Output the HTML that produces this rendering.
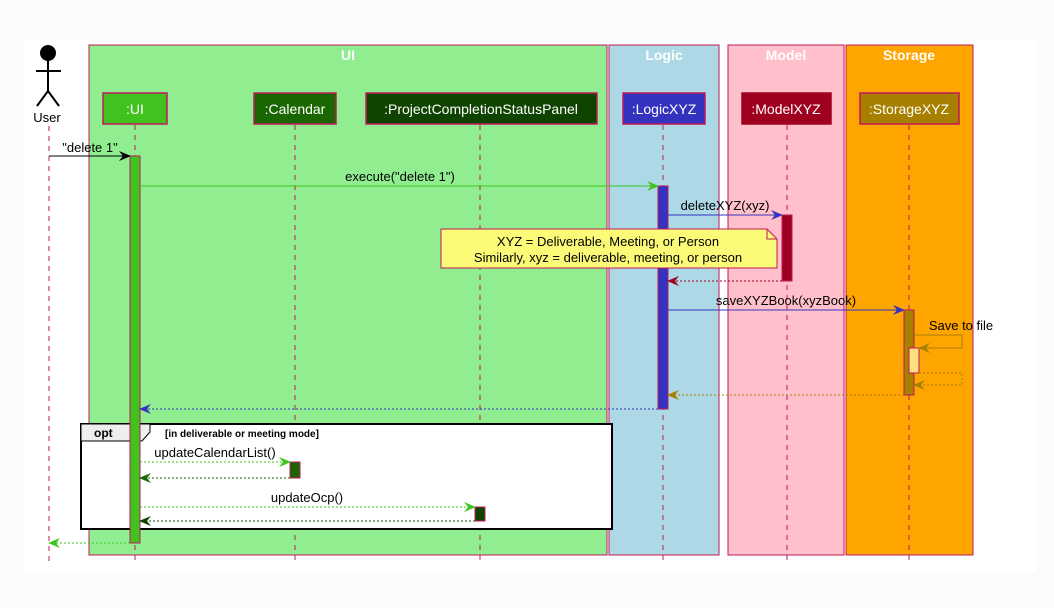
<!DOCTYPE html>
<html><head><meta charset="utf-8"><style>
html,body{margin:0;padding:0;background:#fbfbfb;}
svg{display:block;font-family:"Liberation Sans","DejaVu Sans",sans-serif;}
</style></head><body>
<svg width="1054" height="608" viewBox="0 0 1054 608">
<defs>
<marker id="a" viewBox="0 0 12 10" refX="11" refY="5" markerWidth="12" markerHeight="10" orient="auto" markerUnits="userSpaceOnUse"><path d="M0,0 L12,5 L0,10 L4,5 Z" fill="context-stroke"/></marker>
</defs>
<rect x="24" y="40" width="1012" height="532" fill="#fff"/>
<!-- boxes -->
<g><rect x="89" y="45" width="518" height="510" fill="#90ee90" stroke="#c2185b"/><text x="348" y="60" fill="#fff" font-size="14" font-weight="bold" text-anchor="middle">UI</text></g>
<g><rect x="609" y="45" width="110" height="510" fill="#add8e6" stroke="#c2185b"/><text x="664" y="60" fill="#fff" font-size="14" font-weight="bold" text-anchor="middle">Logic</text></g>
<g><rect x="728" y="45" width="116" height="510" fill="#ffc0cb" stroke="#c2185b"/><text x="786" y="60" fill="#fff" font-size="14" font-weight="bold" text-anchor="middle">Model</text></g>
<g><rect x="846" y="45" width="127" height="510" fill="#ffa500" stroke="#c2185b"/><text x="909" y="60" fill="#fff" font-size="14" font-weight="bold" text-anchor="middle">Storage</text></g>
<!-- lifelines -->
<g stroke="#c2185b" stroke-dasharray="5,5">
<line x1="49" y1="126" x2="49" y2="562"/><line x1="135" y1="125" x2="135" y2="562"/><line x1="295" y1="125" x2="295" y2="562"/><line x1="480" y1="125" x2="480" y2="562"/><line x1="663" y1="125" x2="663" y2="562"/><line x1="787" y1="125" x2="787" y2="562"/><line x1="909" y1="125" x2="909" y2="562"/>
</g>
<!-- actor -->
<g stroke="#000" stroke-width="2" fill="none">
<circle cx="48" cy="53" r="7" fill="#000"/><line x1="48" y1="60" x2="48" y2="91"/><line x1="36" y1="71" x2="61" y2="71"/><line x1="48" y1="91" x2="37" y2="106"/><line x1="48" y1="91" x2="59" y2="106"/>
</g>
<text x="47" y="122" font-size="13" text-anchor="middle">User</text>
<!-- participants -->
<g font-size="14" fill="#fff" text-anchor="middle">
<g><rect x="103" y="93" width="64" height="31" fill="#40c31f" stroke="#c2185b" stroke-width="1.5"/><text x="135" y="114" fill="#fff">:UI</text></g>
<g><rect x="254" y="93" width="82" height="31" fill="#1a6600" stroke="#c2185b" stroke-width="1.5"/><text x="295" y="114" fill="#fff">:Calendar</text></g>
<g><rect x="366" y="93" width="231" height="31" fill="#0f4400" stroke="#c2185b" stroke-width="1.5"/><text x="481" y="114" fill="#fff">:ProjectCompletionStatusPanel</text></g>
<g><rect x="623" y="93" width="82" height="31" fill="#3333c0" stroke="#c2185b" stroke-width="1.5"/><text x="664" y="114" fill="#fff">:LogicXYZ</text></g>
<g><rect x="742" y="93" width="89" height="31" fill="#a00020" stroke="#a00020" stroke-width="1.5"/><text x="786" y="114" fill="#fff">:ModelXYZ</text></g>
<g><rect x="860" y="93" width="99" height="31" fill="#a88000" stroke="#c2185b" stroke-width="1.5"/><text x="909" y="114" fill="#fff">:StorageXYZ</text></g>
</g>
<!-- opt frame -->
<g>
<rect x="81" y="424" width="531" height="105" fill="#fff" stroke="#000" stroke-width="2"/>
<path d="M81,424 H150 V432 L142,441 H81 Z" fill="#eee" stroke="#000"/>
<text x="94" y="437" font-size="12" font-weight="bold">opt</text>
<text x="165" y="437" font-size="10" font-weight="bold">[in deliverable or meeting mode]</text>
</g>
<!-- activations -->
<rect x="130" y="156" width="10" height="387" fill="#40c31f" stroke="#c2185b"/>
<rect x="658" y="186" width="10" height="223" fill="#3333c0" stroke="#c2185b"/>
<rect x="782" y="215" width="10" height="66" fill="#a00020" stroke="#c2185b"/>
<rect x="904" y="310" width="10" height="85" fill="#a88000" stroke="#c2185b"/>
<rect x="909" y="348" width="10" height="25" fill="#ffe080" stroke="#c2185b"/>
<rect x="290" y="462" width="10" height="16" fill="#1a6600" stroke="#c2185b"/>
<rect x="475" y="507" width="10" height="14" fill="#0f4400" stroke="#c2185b"/>
<!-- note -->
<g>
<path d="M441,229 H767 L777,239 V268 H441 Z" fill="#fbfb77" stroke="#c2185b"/>
<path d="M767,229 V239 H777" fill="none" stroke="#c2185b"/>
<text x="608" y="246" font-size="13" text-anchor="middle">XYZ = Deliverable, Meeting, or Person</text>
<text x="608" y="262" font-size="13" text-anchor="middle">Similarly, xyz = deliverable, meeting, or person</text>
</g>
<!-- messages -->
<g font-size="13" fill="#000" text-anchor="middle">
<line x1="49" y1="156" x2="130" y2="156" stroke="#000" marker-end="url(#a)"/><text x="90" y="152">"delete 1"</text>
<line x1="140" y1="186" x2="658" y2="186" stroke="#40c31f" marker-end="url(#a)"/><text x="400" y="181">execute("delete 1")</text>
<line x1="668" y1="215" x2="782" y2="215" stroke="#3333c0" marker-end="url(#a)"/><text x="725" y="210">deleteXYZ(xyz)</text>
<line x1="782" y1="281" x2="668" y2="281" stroke="#a00020" stroke-dasharray="2,2" marker-end="url(#a)"/>
<line x1="668" y1="310" x2="904" y2="310" stroke="#3333c0" marker-end="url(#a)"/><text x="786" y="305">saveXYZBook(xyzBook)</text>
<polyline points="914,335 962,335 962,348 919,348" fill="none" stroke="#a88000" marker-end="url(#a)"/><text x="961" y="330">Save to file</text>
<polyline points="919,373 962,373 962,385 914,385" fill="none" stroke="#a88000" stroke-dasharray="2,2" marker-end="url(#a)"/>
<line x1="904" y1="395" x2="668" y2="395" stroke="#a88000" stroke-dasharray="2,2" marker-end="url(#a)"/>
<line x1="658" y1="409" x2="140" y2="409" stroke="#3333c0" stroke-dasharray="2,2" marker-end="url(#a)"/>
<line x1="140" y1="462" x2="290" y2="462" stroke="#40c31f" stroke-dasharray="2,2" marker-end="url(#a)"/><text x="215" y="457">updateCalendarList()</text>
<line x1="290" y1="478" x2="140" y2="478" stroke="#1a6600" stroke-dasharray="2,2" marker-end="url(#a)"/>
<line x1="140" y1="507" x2="475" y2="507" stroke="#40c31f" stroke-dasharray="2,2" marker-end="url(#a)"/><text x="307" y="502">updateOcp()</text>
<line x1="475" y1="521" x2="140" y2="521" stroke="#0f4400" stroke-dasharray="2,2" marker-end="url(#a)"/>
<line x1="130" y1="543" x2="49" y2="543" stroke="#40c31f" stroke-dasharray="2,2" marker-end="url(#a)"/>
</g>
</svg>
</body></html>
